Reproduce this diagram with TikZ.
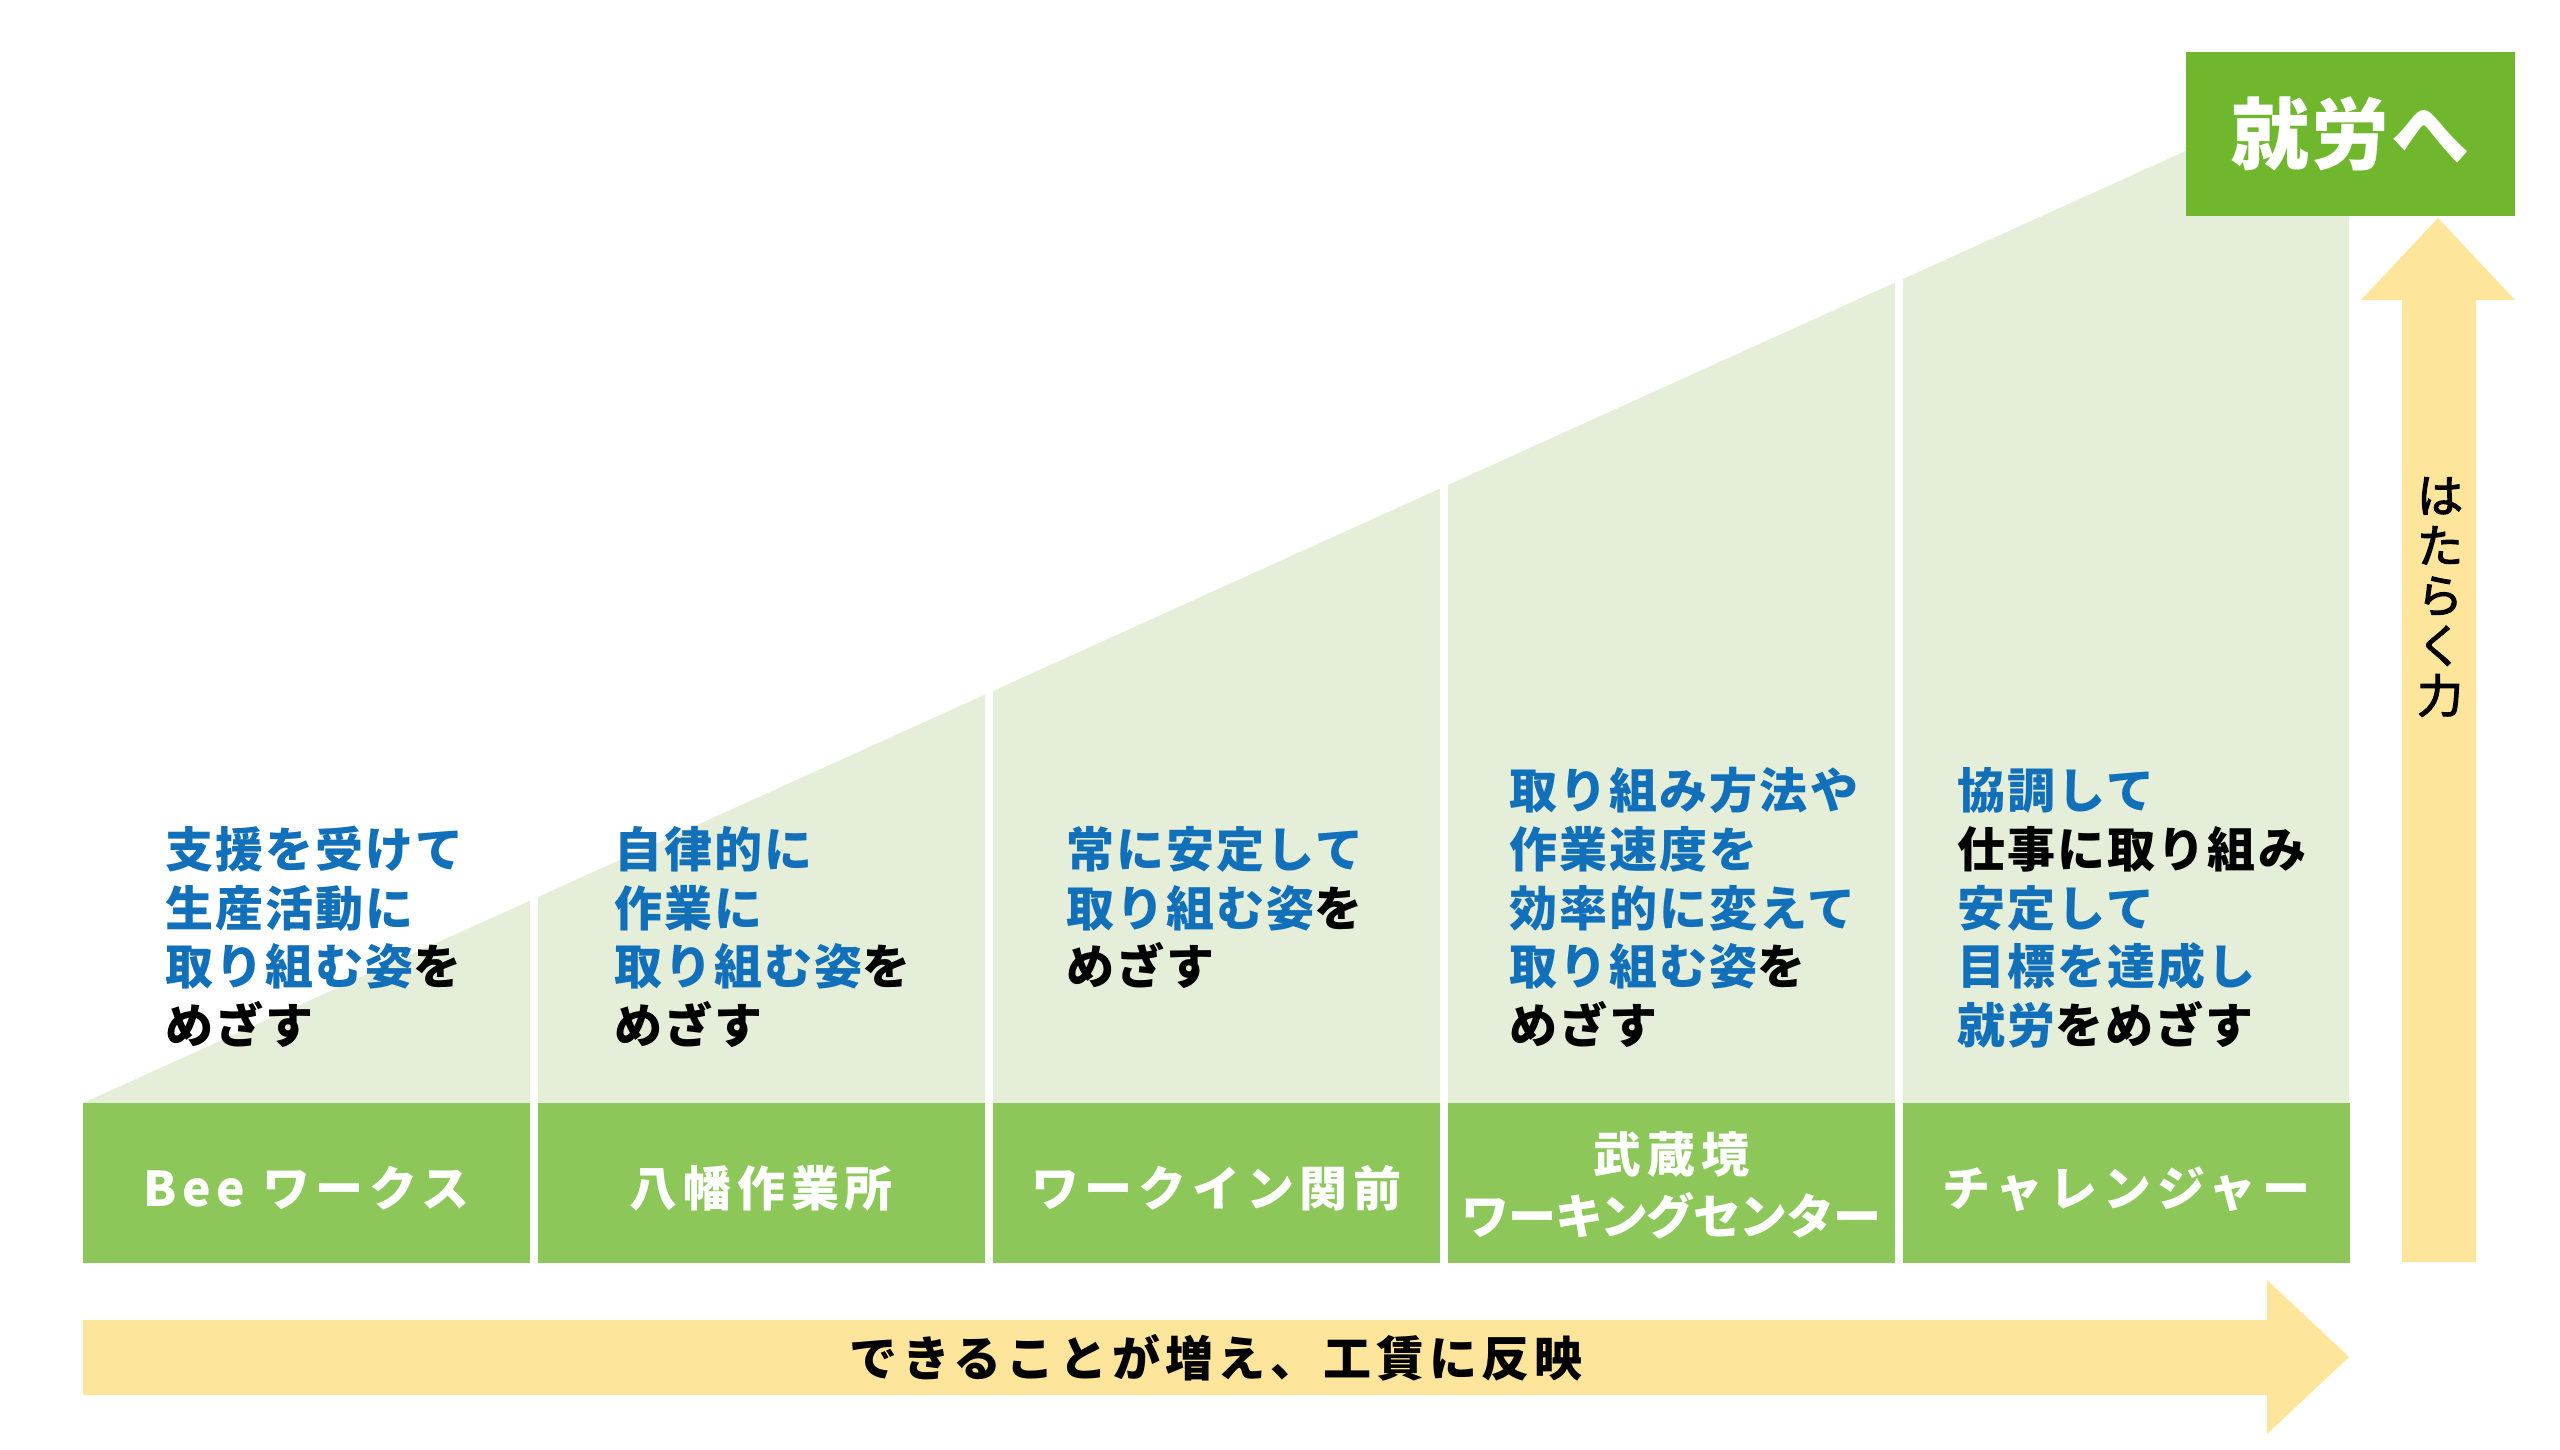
\documentclass[tikz,border=0pt]{standalone}
\usepackage{fontspec}
\setmainfont{Noto Sans CJK JP}
\definecolor{cblue}{HTML}{1170B9}
\definecolor{glab}{HTML}{8DC75A}
\definecolor{gdark}{HTML}{70B72E}
\definecolor{cbg}{HTML}{E4EED8}
\definecolor{cyel}{HTML}{FDE59B}
\begin{document}
\begin{tikzpicture}[x=1pt,y=-1pt,
  desc/.style={anchor=base west, inner sep=0pt, text=cblue, font=\fontsize{48}{59}\selectfont\bfseries\addfontfeature{LetterSpace=4.5}},
  labbox/.style={rectangle, fill=glab, minimum width=447pt, minimum height=160pt, inner sep=0pt},
  labtext/.style={anchor=base, inner sep=0pt, text=white, align=center,
    font=\fontsize{48}{62}\selectfont\bfseries\addfontfeature{LetterSpace=12}},
  sep/.style={fill=white}]
\useasboundingbox (0,0) rectangle (2560,1449);
% light green staircase background
\fill[cbg] (83,1103) -- (2349,77) -- (2349,1103) -- cycle;
\foreach \x in {530,985,1440,1895}{\fill[sep] (\x,0) rectangle (\x+8,1103);}
% column label boxes
\node[labbox] (b1) at (306.5,1183) {};
\node[labbox] (b2) at (761.5,1183) {};
\node[labbox] (b3) at (1216.5,1183) {};
\node[labbox] (b4) at (1671.5,1183) {};
\node[labbox] (b5) at (2126.5,1183) {};
\node[labtext] (t1) at ([yshift=-23pt]b1.center) {Bee ワークス};
\node[labtext] (t2) at ([yshift=-23pt]b2.center) {八幡作業所};
\node[labtext] (t3) at ([yshift=-23pt]b3.center) {ワークイン関前};
\node[labtext] (t4) at ([yshift=-51pt]b4.center) {武蔵境\\{\addfontfeature{LetterSpace=-3}ワーキングセンター}};
\node[labtext] (t5) at ([yshift=-23pt]b5.center) {チャレンジャー};
% goal box
\node[rectangle, fill=gdark, minimum width=329pt, minimum height=164pt, inner sep=0pt, text=white,
  font=\fontsize{78}{80}\selectfont\bfseries\addfontfeature{LetterSpace=3}] (goal) at (2350.5,134) {就労へ};
% descriptions
\node[desc] (c1a) at (165,867) {支援を受けて};
\node[desc] (c1b) at (165,926) {生産活動に};
\node[desc] (c1c) at (165,984) {取り組む姿{\color{black}を}};
\node[desc,text=black] (c1d) at (165,1043) {めざす};
\node[desc] (c2a) at (614,867) {自律的に};
\node[desc] (c2b) at (614,926) {作業に};
\node[desc] (c2c) at (614,984) {取り組む姿{\color{black}を}};
\node[desc,text=black] (c2d) at (614,1043) {めざす};
\node[desc] (c3a) at (1066,867) {常に安定して};
\node[desc] (c3b) at (1066,926) {取り組む姿{\color{black}を}};
\node[desc,text=black] (c3c) at (1066,984) {めざす};
\node[desc] (c4a) at (1509,808) {取り組み方法や};
\node[desc] (c4b) at (1509,867) {作業速度を};
\node[desc] (c4c) at (1509,926) {効率的に変えて};
\node[desc] (c4d) at (1509,984) {取り組む姿{\color{black}を}};
\node[desc,text=black] (c4e) at (1509,1043) {めざす};
\node[desc] (c5a) at (1957,808) {協調して};
\node[desc,text=black] (c5b) at (1957,867) {仕事に取り組み};
\node[desc] (c5c) at (1957,926) {安定して};
\node[desc] (c5d) at (1957,984) {目標を達成し};
\node[desc] (c5e) at (1957,1043) {就労{\color{black}をめざす}};
% horizontal arrow
\fill[cyel] (83,1320) -- (2267,1320) -- (2267,1280) -- (2349,1357) -- (2267,1434) -- (2267,1395) -- (83,1395) -- cycle;
\node[anchor=base, inner sep=0pt, font=\fontsize{48}{50}\selectfont\bfseries\addfontfeature{LetterSpace=10}] (wage) at (1216,1376) {できることが増え、工賃に反映};
% vertical arrow
\fill[cyel] (2402,1262) -- (2402,300) -- (2361,300) -- (2438,218) -- (2515,300) -- (2476,300) -- (2476,1262) -- cycle;
\node[align=center, inner sep=0pt, font=\fontsize{46}{50}\selectfont\addfontfeature{FakeBold=2.5}] (power) at (2440,597) {は\\た\\ら\\く\\力};
\end{tikzpicture}
\end{document}
